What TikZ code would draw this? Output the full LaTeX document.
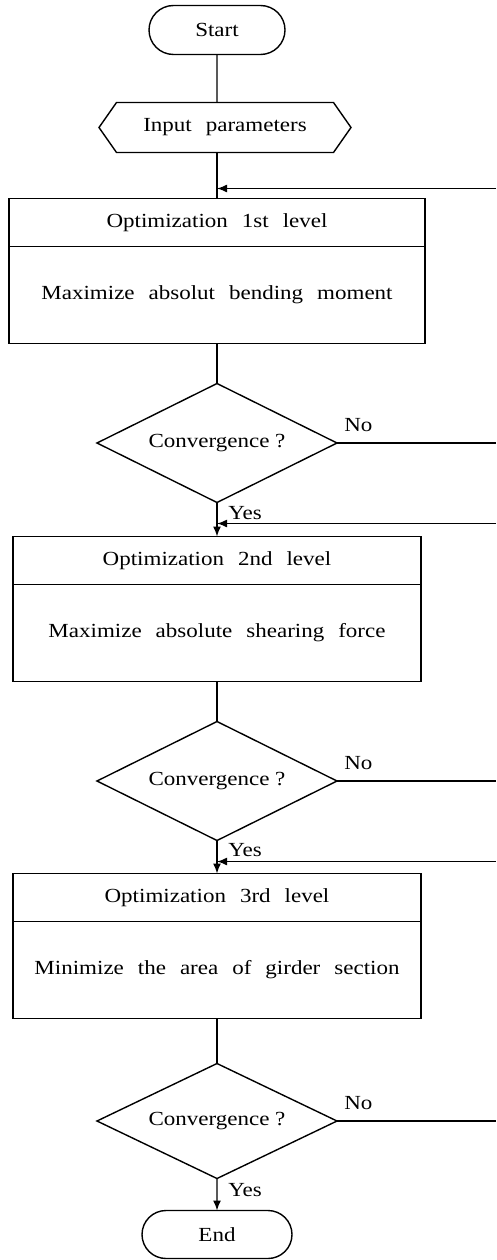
\documentclass[tikz,border=0pt]{standalone}
\usepackage{fontspec}
\setmainfont[FakeStretch=1.15]{Liberation Serif}
\usepackage{tikz}
\usetikzlibrary{positioning,shapes.geometric,shapes.misc,shapes.symbols,arrows.meta}
\newcommand{\flowfont}{\fontsize{20}{24}\selectfont\spaceskip 14pt\relax}
\newcommand{\plainfont}{\fontsize{20}{24}\selectfont}

\begin{document}
\begin{tikzpicture}[x=1pt, y=1pt, line width=1.4pt, auto,
    >={Latex[length=10pt,width=8pt]},
    every node/.style={font=\flowfont, outer sep=0pt},
    terminal/.style={draw, rounded rectangle, minimum width=136pt, minimum height=49pt, inner sep=0pt},
    inputbox/.style={draw, signal, signal to=west and east, signal pointer angle=110, minimum width=252pt, minimum height=50pt},
    titlebox/.style={draw, rectangle, minimum width=408pt, minimum height=48pt},
    bodybox/.style={draw, rectangle, minimum width=408pt, minimum height=97pt},
    decision/.style={draw, diamond, aspect=2, inner sep=0pt, minimum width=240pt, minimum height=119pt, font=\plainfont}]
    \useasboundingbox (0,0) rectangle (496,-1260);
    \coordinate (edge) at (496,0);

    % main column
    \node[terminal] (start) at (217,-30) {Start};
    \node[inputbox, below=48pt of start, xshift=8pt] (input) {Input parameters};
    \node[titlebox, below=46pt of input, xshift=-8pt, minimum width=416pt] (opt1) {Optimization 1st level};
    \node[bodybox, below=0pt of opt1, minimum width=416pt] (max1) {Maximize absolut bending moment};
    \node[decision, below=40pt of max1] (dec1) {Convergence ?};
    \node[titlebox, below=34pt of dec1] (opt2) {Optimization 2nd level};
    \node[bodybox, below=0pt of opt2] (max2) {Maximize absolute shearing force};
    \node[decision, below=40pt of max2] (dec2) {Convergence ?};
    \node[titlebox, below=33pt of dec2] (opt3) {Optimization 3rd level};
    \node[bodybox, below=0pt of opt3] (max3) {Minimize the area of girder section};
    \node[decision, below=45pt of max3, minimum height=115pt] (dec3) {Convergence ?};
    \node[terminal, below=32pt of dec3, minimum width=150pt, minimum height=48pt] (end) {End};

    \draw (start) -- (start |- input.north);
    \draw (start |- input.south) -- (opt1);
    \draw (max1) -- (dec1);
    \draw[->] (dec1) -- (opt2) node[pos=0.3, anchor=west, xshift=8pt] (yes1) {Yes};
    \draw (max2) -- (dec2);
    \draw[->] (dec2) -- (opt3) node[pos=0.3, anchor=west, xshift=8pt] (yes2) {Yes};
    \draw (max3) -- (dec3);
    \draw[->] (dec3) -- (end) node[pos=0.35, anchor=west, xshift=8pt] (yes3) {Yes};

    % loops back from the right
    \coordinate (back1) at ([yshift=10pt]opt1.north -| edge);
    \coordinate (back2) at ([yshift=13pt]opt2.north -| edge);
    \coordinate (back3) at ([yshift=12pt]opt3.north -| edge);
    \draw[->] (back1) -- (back1 -| opt1.north);
    \draw[->] (back2) -- (back2 -| opt2.north);
    \draw[->] (back3) -- (back3 -| opt3.north);

    \draw (dec1.east) -- (dec1.east -| edge) node[pos=0, anchor=south west, xshift=4pt, yshift=8pt] (no1) {No};
    \draw (dec2.east) -- (dec2.east -| edge) node[pos=0, anchor=south west, xshift=4pt, yshift=8pt] (no2) {No};
    \draw (dec3.east) -- (dec3.east -| edge) node[pos=0, anchor=south west, xshift=4pt, yshift=8pt] (no3) {No};
\end{tikzpicture}
\end{document}
